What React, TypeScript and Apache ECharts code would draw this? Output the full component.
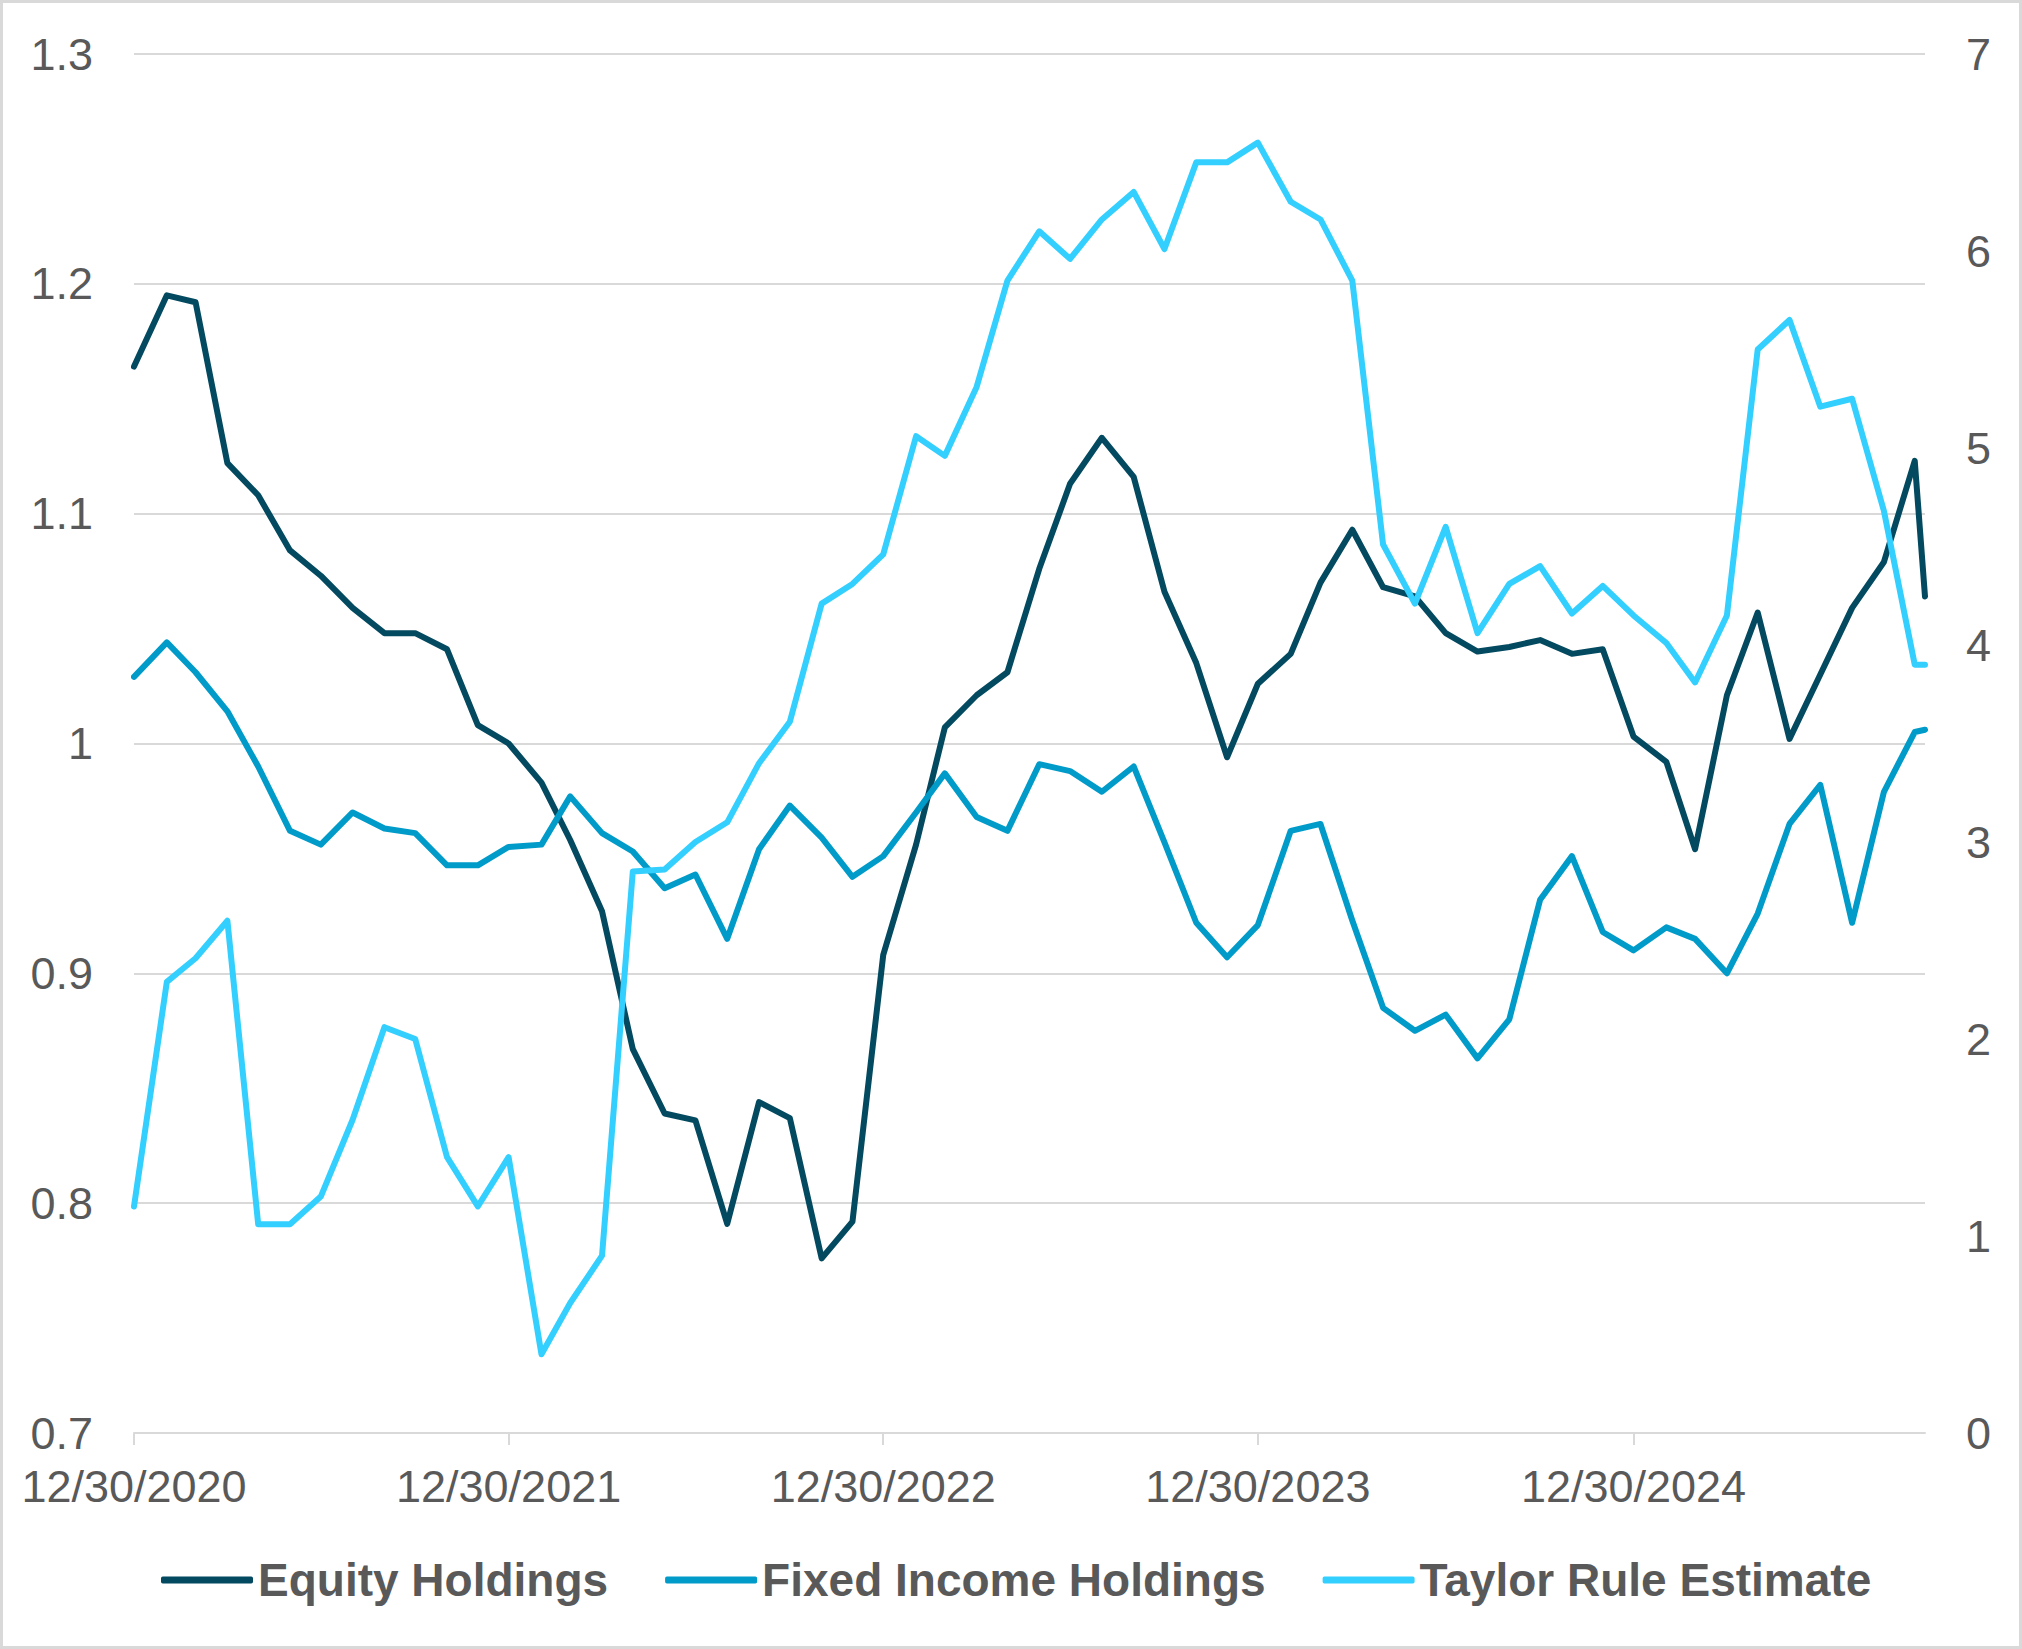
import React, { useEffect, useRef } from "react";
import * as echarts from "echarts";

const dates = [
  "2020-12-30",
  "2021-01-31", "2021-02-28", "2021-03-31", "2021-04-30", "2021-05-31", "2021-06-30",
  "2021-07-31", "2021-08-31", "2021-09-30", "2021-10-31", "2021-11-30", "2021-12-30",
  "2022-01-31", "2022-02-28", "2022-03-31", "2022-04-30", "2022-05-31", "2022-06-30",
  "2022-07-31", "2022-08-31", "2022-09-30", "2022-10-31", "2022-11-30", "2022-12-30",
  "2023-01-31", "2023-02-28", "2023-03-31", "2023-04-30", "2023-05-31", "2023-06-30",
  "2023-07-31", "2023-08-31", "2023-09-30", "2023-10-31", "2023-11-30", "2023-12-30",
  "2024-01-31", "2024-02-29", "2024-03-31", "2024-04-30", "2024-05-31", "2024-06-30",
  "2024-07-31", "2024-08-31", "2024-09-30", "2024-10-31", "2024-11-30", "2024-12-30",
  "2025-01-31", "2025-02-28", "2025-03-31", "2025-04-30", "2025-05-31", "2025-06-30",
  "2025-07-31", "2025-08-31", "2025-09-30", "2025-10-10",
];

const equityHoldings = [
  1.164, 1.195, 1.192, 1.122, 1.108, 1.084, 1.073, 1.059, 1.048, 1.048,
  1.041, 1.008, 1.0, 0.983, 0.958, 0.927, 0.867, 0.839, 0.836, 0.791,
  0.844, 0.837, 0.776, 0.792, 0.908, 0.956, 1.007, 1.021, 1.031, 1.076,
  1.113, 1.133, 1.116, 1.066, 1.035, 0.994, 1.026, 1.039, 1.07, 1.093,
  1.068, 1.064, 1.048, 1.04, 1.042, 1.045, 1.039, 1.041, 1.003, 0.992,
  0.954, 1.021, 1.057, 1.002, 1.03, 1.059, 1.079, 1.123, 1.064,
];

const fixedIncomeHoldings = [
  1.029, 1.044, 1.031, 1.014, 0.99, 0.962, 0.956, 0.97, 0.963, 0.961,
  0.947, 0.947, 0.955, 0.956, 0.977, 0.961, 0.953, 0.937, 0.943, 0.915,
  0.954, 0.973, 0.959, 0.942, 0.951, 0.97, 0.987, 0.968, 0.962, 0.991,
  0.988, 0.979, 0.99, 0.957, 0.922, 0.907, 0.921, 0.962, 0.965, 0.923,
  0.885, 0.875, 0.882, 0.863, 0.88, 0.932, 0.951, 0.918, 0.91, 0.92,
  0.915, 0.9, 0.926, 0.965, 0.982, 0.922, 0.979, 1.005, 1.006,
];

const taylorRuleEstimate = [
  1.15, 2.29, 2.41, 2.6, 1.06, 1.06, 1.2, 1.59, 2.06, 2.0,
  1.4, 1.15, 1.4, 0.4, 0.66, 0.9, 2.85, 2.86, 3.0, 3.1,
  3.4, 3.61, 4.21, 4.31, 4.46, 5.06, 4.96, 5.31, 5.85, 6.1,
  5.96, 6.16, 6.3, 6.01, 6.45, 6.45, 6.55, 6.25, 6.16, 5.85,
  4.51, 4.21, 4.6, 4.06, 4.31, 4.4, 4.16, 4.3, 4.15, 4.01,
  3.81, 4.15, 5.5, 5.65, 5.21, 5.25, 4.68, 3.9, 3.9,
];

const xTickDates = ["2020-12-30", "2021-12-30", "2022-12-30", "2023-12-30", "2024-12-30"];
const seriesNames = ["Equity Holdings", "Fixed Income Holdings", "Taylor Rule Estimate"];
const seriesColors = ["#034A60", "#009BC9", "#33CFFF"];

const leftMin = 0.7;
const leftMax = 1.3;
const leftStep = 0.1;
const rightMin = 0;
const rightMax = 7;
const rightStep = 1;

const FONT = "'Liberation Sans', Arial, sans-serif";
const TEXT = "#595959";
const GRID = "#D9D9D9";

function toTime(s: string): number {
  const [y, m, d] = s.split("-").map(Number);
  return new Date(y, m - 1, d).getTime();
}

export default function App() {
  const ref = useRef<HTMLDivElement>(null);

  useEffect(() => {
    document.body.style.margin = "0";
    const chart = echarts.init(ref.current as HTMLDivElement, null, { renderer: "svg" });
    const times = dates.map(toTime);
    const mk = (vals: number[]) => vals.map((v, i) => [times[i], v]);
    const lineSeries = (name: string, color: string, vals: number[], yAxisIndex: number) => ({
      name,
      type: "line",
      yAxisIndex,
      data: mk(vals),
      showSymbol: false,
      symbol: "none",
      color,
      itemStyle: { color },
      lineStyle: { color, width: 6, cap: "round", join: "round" },
      emphasis: { disabled: true },
    });
    const tickVals = xTickDates.map(toTime);

    chart.setOption({
      animation: false,
      backgroundColor: "#ffffff",
      textStyle: { fontFamily: FONT },
      graphic: [
        {
          type: "rect",
          silent: true,
          z: -10,
          shape: { x: 1.5, y: 1.5, width: 2019, height: 1646 },
          style: { fill: "none", stroke: GRID, lineWidth: 3 },
        },
      ],
      grid: { left: 134, right: 97, top: 54, bottom: 216 },
      legend: {
        data: seriesNames,
        left: 156,
        top: 1552,
        icon: "roundRect",
        itemWidth: 92,
        itemHeight: 7,
        itemGap: 57,
        textStyle: { fontSize: 46, fontWeight: "bold", color: TEXT, fontFamily: FONT },
      },
      xAxis: {
        type: "value",
        min: times[0],
        max: times[times.length - 1],
        axisLine: { show: true, lineStyle: { color: GRID, width: 2 } },
        axisTick: {
          show: true,
          length: 12,
          lineStyle: { color: GRID, width: 2 },
          customValues: tickVals,
        },
        splitLine: { show: false },
        axisLabel: {
          customValues: tickVals,
          fontSize: 45,
          color: TEXT,
          fontFamily: FONT,
          margin: 31,
          hideOverlap: false,
          formatter: (val: number) => {
            const d = new Date(val);
            return `${d.getMonth() + 1}/${d.getDate()}/${d.getFullYear()}`;
          },
        },
      },
      yAxis: [
        {
          type: "value",
          min: leftMin,
          max: leftMax,
          interval: leftStep,
          axisLine: { show: false },
          axisTick: { show: false },
          splitLine: { show: true, lineStyle: { color: GRID, width: 2 } },
          axisLabel: {
            fontSize: 45,
            color: TEXT,
            fontFamily: FONT,
            margin: 41,
            formatter: (v: number) => String(parseFloat(v.toFixed(1))),
          },
        },
        {
          type: "value",
          position: "right",
          min: rightMin,
          max: rightMax,
          interval: rightStep,
          axisLine: { show: false },
          axisTick: { show: false },
          splitLine: { show: false },
          axisLabel: {
            fontSize: 45,
            color: TEXT,
            fontFamily: FONT,
            margin: 41,
            formatter: (v: number) => String(Math.round(v)),
          },
        },
      ],
      series: [
        lineSeries(seriesNames[0], seriesColors[0], equityHoldings, 0),
        lineSeries(seriesNames[1], seriesColors[1], fixedIncomeHoldings, 0),
        lineSeries(seriesNames[2], seriesColors[2], taylorRuleEstimate, 1),
      ],
    });

    return () => chart.dispose();
  }, []);

  return <div ref={ref} style={{ width: 2022, height: 1649 }} />;
}
